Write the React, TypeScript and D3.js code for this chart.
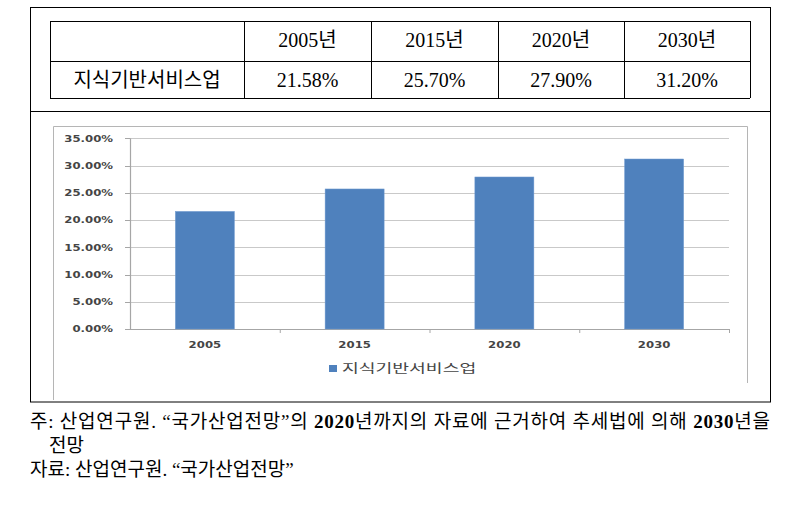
import React from "react";
import * as d3 from "d3";

const categories = ["2005", "2015", "2020", "2030"];
const values = [21.58, 25.7, 27.9, 31.2];
const tableHeaders = ["2005년", "2015년", "2020년", "2030년"];
const tableValues = ["21.58%", "25.70%", "27.90%", "31.20%"];
const seriesName = "지식기반서비스업";
const yTicks = [0, 5, 10, 15, 20, 25, 30, 35];
const note1 = "주: 산업연구원. “국가산업전망”의 2020년까지의 자료에 근거하여 추세법에 의해 2030년을";
const note2 = "전망";
const note3 = "자료: 산업연구원. “국가산업전망”";

const serif = "'Liberation Serif', 'Times New Roman', 'Noto Sans CJK KR', serif";
const korean = "'Noto Sans CJK KR', sans-serif";
const chartFont = "'DejaVu Sans', Verdana, sans-serif";

function renderNote(text: string) {
  const parts = text.split(/(\d+)/);
  return parts.map((p, i) =>
    /^\d+$/.test(p) ? (
      <tspan key={i} fontWeight="bold" fontFamily={serif}>{p}</tspan>
    ) : (
      <tspan key={i}>{p}</tspan>
    )
  );
}

export default function App() {
  const W = 801, H = 524;
  const colX = [50, 244, 371, 498, 624, 750];
  const rowY = [21, 61, 98];

  const x = d3.scaleBand<string>().domain(categories).range([130, 729]).paddingInner(0.606).paddingOuter(0.303);
  const outer = d3.scaleBand<string>().domain(categories).range([130, 729]);
  const y = d3.scaleLinear().domain([0, 35]).range([329, 138.3]);
  const lblColor = "#454545";
  const sx = 1.3;

  return (
    <svg width={W} height={H} style={{ position: "absolute", left: 0, top: 0, background: "#fff" }}>
      <rect x={0} y={0} width={W} height={H} fill="#fff" />
      <rect x={30.5} y={7.5} width={740} height={394.5} fill="none" stroke="#000" strokeWidth={1} />
      <line x1={30} x2={771} y1={111.5} y2={111.5} stroke="#000" />
      {rowY.map((ry, i) => (
        <line key={"h" + i} x1={colX[0]} x2={colX[colX.length - 1]} y1={ry + 0.5} y2={ry + 0.5} stroke="#000" />
      ))}
      {colX.map((cx, i) => (
        <line key={"v" + i} x1={cx + 0.5} x2={cx + 0.5} y1={rowY[0]} y2={rowY[2]} stroke="#000" />
      ))}
      {tableHeaders.map((t, i) => (
        <text key={"th" + i} x={(colX[i + 1] + colX[i + 2]) / 2} y={47} textAnchor="middle" fontFamily={serif} fontSize={20} fill="#000">{t}</text>
      ))}
      <text x={(colX[0] + colX[1]) / 2} y={87} textAnchor="middle" fontFamily={korean} fontSize={20} fill="#000">{seriesName}</text>
      {tableValues.map((t, i) => (
        <text key={"tv" + i} x={(colX[i + 1] + colX[i + 2]) / 2} y={87} textAnchor="middle" fontFamily={serif} fontSize={20} fill="#000">{t}</text>
      ))}

      <path d="M53.5,400 V126.5 H747.5 V383" fill="none" stroke="#b5b5b5" strokeWidth={1} />

      {yTicks.map((t) => (
        <line key={"g" + t} x1={130} x2={729} y1={Math.round(y(t)) + 0.5} y2={Math.round(y(t)) + 0.5} stroke={t === 0 ? "#a6a6a6" : "#c9c9c9"} strokeWidth={1.2} />
      ))}
      <line x1={130.5} x2={130.5} y1={y(35)} y2={y(0)} stroke="#a6a6a6" strokeWidth={1.2} />
      {yTicks.map((t) => (
        <line key={"yt" + t} x1={125} x2={130} y1={Math.round(y(t)) + 0.5} y2={Math.round(y(t)) + 0.5} stroke="#a6a6a6" />
      ))}
      {yTicks.map((t) => (
        <text key={"yl" + t} transform={`translate(113,${y(t) + 3.3}) scale(${sx},1)`} textAnchor="end" fontFamily={chartFont} fontWeight="bold" fontSize={9} fill={lblColor}>
          {d3.format(".2f")(t) + "%"}
        </text>
      ))}
      {categories.map((c) => (
        <line key={"xt" + c} x1={(outer(c) as number) + outer.bandwidth() + 0.5} x2={(outer(c) as number) + outer.bandwidth() + 0.5} y1={y(0)} y2={y(0) + 4} stroke="#a6a6a6" />
      ))}
      {categories.map((c, i) => (
        <rect key={"b" + c} x={x(c)} y={y(values[i])} width={x.bandwidth()} height={y(0) - y(values[i])} fill="#4f81bd" stroke="#6f9ad0" strokeWidth={0.5} />
      ))}
      {categories.map((c) => (
        <text key={"xl" + c} transform={`translate(${(x(c) as number) + x.bandwidth() / 2},${347.5}) scale(${sx},1)`} textAnchor="middle" fontFamily={chartFont} fontWeight="bold" fontSize={9} fill={lblColor}>
          {c}
        </text>
      ))}
      <rect x={329} y={365} width={8} height={7} fill="#4f81bd" />
      <text transform={`translate(342,373) scale(1.46,1)`} fontFamily={korean} fontSize={12.5} fill={lblColor}>{seriesName}</text>

      <text x={30} y={428} fontFamily={serif} fontSize={19} fill="#000" textLength={740} lengthAdjust="spacing">{renderNote(note1)}</text>
      <text x={49} y={452} fontFamily={serif} fontSize={19} fill="#000">{note2}</text>
      <text x={30} y={476} fontFamily={serif} fontSize={19} fill="#000">{renderNote(note3)}</text>
    </svg>
  );
}
